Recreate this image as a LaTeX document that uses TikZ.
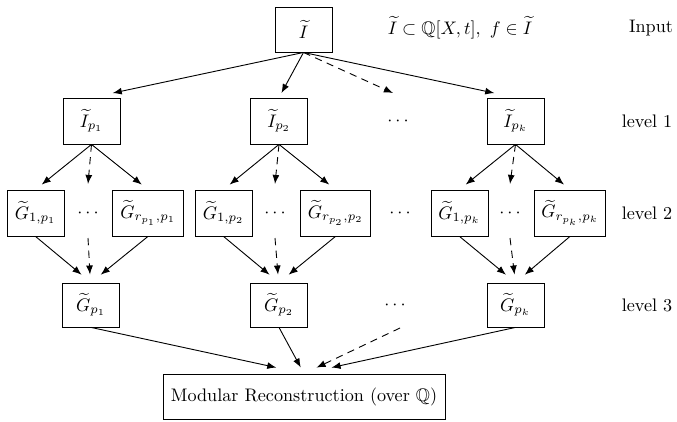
\documentclass[tikz,border=0pt]{standalone}
\usepackage{amssymb}
\usetikzlibrary{arrows.meta,calc}
\begin{document}
\begin{tikzpicture}[x=0.551pt,y=-0.551pt,
  box/.style={draw,line width=0.5pt,inner sep=0pt,minimum height=25.3pt},
  sbox/.style={box,minimum width=31.4pt},
  wbox/.style={box,minimum width=38.8pt},
  arr/.style={-{Latex[length=5pt,width=3.8pt]},line width=0.5pt},
  darr/.style={arr,dash pattern=on 4pt off 3pt},
  lab/.style={inner sep=0pt}
]
\useasboundingbox (0,0) rectangle (677,422);

% input row
\node[sbox,minimum height=24.8pt] (I) at (303.5,29.5) {$\widetilde{I}$};
\node[lab] (form) at (460,28) {$\widetilde{I}\subset\mathbb{Q}[X,t],\ f\in\widetilde{I}$};
\node[lab] (in) at (651,28) {Input};

% level 1
\node[sbox] (Ia) at (91.5,121) {$\widetilde{I}_{p_1}$};
\node[sbox] (Ib) at (279,121) {$\widetilde{I}_{p_2}$};
\node[lab] (d1) at (398,121) {$\cdots$};
\node[sbox] (Ik) at (515.5,121) {$\widetilde{I}_{p_k}$};
\node[lab] (l1) at (647,121) {level 1};

% level 2
\node[sbox] (Ga1) at (35.5,213) {$\widetilde{G}_{1,p_1}$};
\node[lab] (da) at (88,213) {$\cdots$};
\node[wbox] (Gar) at (148,213) {$\widetilde{G}_{r_{p_1},p_1}$};
\node[sbox] (Gb1) at (223.5,213) {$\widetilde{G}_{1,p_2}$};
\node[lab] (db) at (275,213) {$\cdots$};
\node[wbox] (Gbr) at (335.5,213) {$\widetilde{G}_{r_{p_2},p_2}$};
\node[lab] (d2) at (400,213) {$\cdots$};
\node[sbox] (Gk1) at (459.5,213) {$\widetilde{G}_{1,p_k}$};
\node[lab] (dk) at (510,213) {$\cdots$};
\node[wbox] (Gkr) at (570,213) {$\widetilde{G}_{r_{p_k},p_k}$};
\node[lab] (l2) at (647,213) {level 2};

% level 3
\node[sbox,minimum height=24.2pt] (Ha) at (91,305) {$\widetilde{G}_{p_1}$};
\node[sbox,minimum height=24.2pt] (Hb) at (279,305) {$\widetilde{G}_{p_2}$};
\node[lab] (d3) at (395,305) {$\cdots$};
\node[sbox,minimum height=24.2pt] (Hk) at (515.5,305) {$\widetilde{G}_{p_k}$};
\node[lab] (l3) at (647,305) {level 3};

% bottom
\node[box,minimum width=155.4pt,minimum height=24.8pt] (M) at (304,396.5) {Modular Reconstruction (over $\mathbb{Q}$)};

% input -> level 1
\draw[arr] (I.south) -- ($(I.south)!0.9!(Ia.north)$);
\draw[arr] (I.south) -- ($(I.south)!0.9!(Ib.north)$);
\draw[arr] (I.south) -- ($(I.south)!0.9!(Ik.north)$);
\draw[darr] (I.south) -- ($(d1)+(-5,-28)$);

% level 1 -> level 2
\foreach \s/\a/\d/\b in {Ia/Ga1/da/Gar, Ib/Gb1/db/Gbr, Ik/Gk1/dk/Gkr}{
  \draw[arr] (\s.south) -- ($(\s.south)!0.89!(\a.north)$);
  \draw[arr] (\s.south) -- ($(\s.south)!0.89!(\b.north)$);
  \draw[darr] (\s.south) -- ($(\d)+(0,-29)$);
}

% level 2 -> level 3
\foreach \t/\a/\d/\b in {Ha/Ga1/da/Gar, Hb/Gb1/db/Gbr, Hk/Gk1/dk/Gkr}{
  \draw[arr] (\a.south) -- ($(\a.south)!0.83!(\t.north)$);
  \draw[arr] (\b.south) -- ($(\b.south)!0.83!(\t.north)$);
  \draw[darr] ($(\d)+(0,25)$) -- ($(\t.north)+(-1,-8)$);
}

% level 3 -> bottom
\draw[arr] (Ha.south) -- ($(Ha.south)!0.87!(M.north)$);
\draw[arr] (Hb.south) -- ($(Hb.south)!0.87!(M.north)$);
\draw[arr] (Hk.south) -- ($(Hk.south)!0.87!(M.north)$);
\draw[darr] ($(d3)+(5,23)$) -- ($($(d3)+(5,23)$)!0.87!(M.north)$);
\end{tikzpicture}
\end{document}
